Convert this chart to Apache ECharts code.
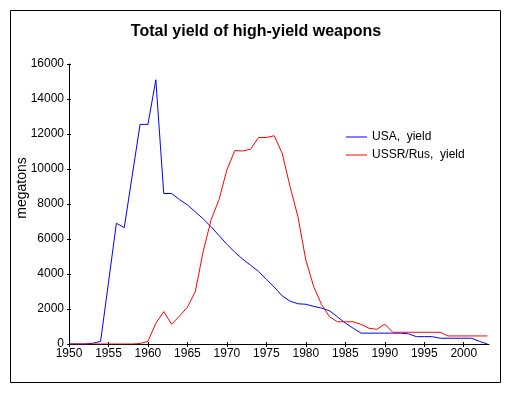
<!DOCTYPE html>
<html>
<head>
<meta charset="utf-8">
<script src="https://cdn.jsdelivr.net/npm/echarts@6/dist/echarts.min.js"></script>
<style>
  html, body { margin: 0; padding: 0; background: #fff; }
  #chart { width: 512px; height: 396px; }
</style>
</head>
<body>
<div id="chart"></div>
<script>
const startYear = 1950
const usaYield = [
  0, 0, 0, 40, 150, 3500, 6900, 6650, 9600, 12550,
  12550, 15100, 8600, 8600, 8250, 7950, 7550, 7150, 6700, 6200,
  5700, 5250, 4850, 4500, 4150, 3700, 3250, 2750, 2450, 2300,
  2270, 2150, 2050, 1900, 1550, 1200, 900, 620, 620, 620,
  620, 620, 620, 580, 420, 420, 420, 330, 330, 330,
  330, 330, 150, 0
]
const ussrYield = [
  0, 0, 0, 0, 0, 0, 0, 0, 0, 30,
  150, 1180, 1850, 1130, 1600, 2100, 3000, 5300, 7100, 8250,
  9950, 11050, 11030, 11130, 11800, 11800, 11900, 10900, 9000, 7270,
  4800, 3270, 2250, 1560, 1270, 1270, 1270, 1120, 900, 840,
  1140, 670, 670, 670, 670, 670, 670, 670, 460, 460,
  460, 460, 460, 460
]
const xTicks = [1950, 1955, 1960, 1965, 1970, 1975, 1980, 1985, 1990, 1995, 2000]

const toPairs = arr => arr.map((v, i) => [startYear + i, v])

const font = 'Arial, "Liberation Sans", sans-serif'
const myChart = echarts.init(document.getElementById('chart'))

const xBase = {
  type: 'value',
  min: 1950,
  max: 2003.2,
  interval: 5,
  splitLine: {show: false}
}
const yBase = {
  type: 'value',
  min: 0,
  max: 16000,
  interval: 2000,
  splitLine: {show: false}
}

myChart.setOption({
  backgroundColor: '#fff',
  animation: false,
  title: {
    text: 'Total yield of high-yield weapons',
    left: 'center',
    top: 19,
    textStyle: {fontFamily: font, fontSize: 16, fontWeight: 'bold', color: '#000'}
  },
  legend: {
    orient: 'vertical',
    left: 346,
    top: 131,
    padding: 0,
    icon: 'rect',
    itemWidth: 21,
    itemHeight: 1,
    itemGap: 6,
    textStyle: {fontFamily: font, fontSize: 12, color: '#000'},
    data: ['USA,  yield', 'USSR/Rus,  yield']
  },
  grid: {left: 69, top: 64, right: 23, bottom: 52, outerBoundsMode: 'none', containLabel: false},
  xAxis: [
    Object.assign({}, xBase, {
      axisLine: {lineStyle: {color: '#000', width: 1}},
      axisTick: {length: 3, lineStyle: {color: '#000'}, customValues: xTicks},
      axisLabel: {
        color: '#000', fontFamily: font, fontSize: 12, margin: 4,
        customValues: xTicks,
        formatter: v => String(v)
      }
    }),
    Object.assign({}, xBase, {
      position: 'bottom',
      axisLine: {show: false},
      axisTick: {inside: true, length: 2, lineStyle: {color: '#000'}, customValues: xTicks},
      axisLabel: {show: false}
    })
  ],
  yAxis: [
    Object.assign({}, yBase, {
      axisLine: {show: true, lineStyle: {color: '#000', width: 1}},
      axisTick: {show: true, length: 2, lineStyle: {color: '#000'}},
      axisLabel: {color: '#000', fontFamily: font, fontSize: 12, margin: 5, formatter: v => String(v)}
    }),
    Object.assign({}, yBase, {
      position: 'left',
      axisLine: {show: false},
      axisTick: {show: true, inside: true, length: 2, lineStyle: {color: '#000'}},
      axisLabel: {show: false}
    })
  ],
  graphic: [
    {
      type: 'rect',
      shape: {x: 10.5, y: 10.5, width: 490, height: 372},
      style: {fill: null, stroke: '#000', lineWidth: 1},
      silent: true
    },
    {
      // y-axis title sits a bit above the plot's middle in the original
      type: 'text',
      x: 22,
      y: 188,
      rotation: Math.PI / 2,
      style: {
        text: 'megatons',
        align: 'center',
        verticalAlign: 'middle',
        fontFamily: font,
        fontSize: 14,
        fill: '#000'
      },
      silent: true
    }
  ],
  series: [
    {
      name: 'USA,  yield',
      type: 'line',
      data: toPairs(usaYield),
      symbol: 'none',
      color: '#0000ff',
      lineStyle: {width: 1, color: '#0000ff'},
      z: 2
    },
    {
      name: 'USSR/Rus,  yield',
      type: 'line',
      data: toPairs(ussrYield),
      symbol: 'none',
      color: '#ff0000',
      lineStyle: {width: 1, color: '#ff0000'},
      z: 3
    }
  ]
})
</script>
</body>
</html>
